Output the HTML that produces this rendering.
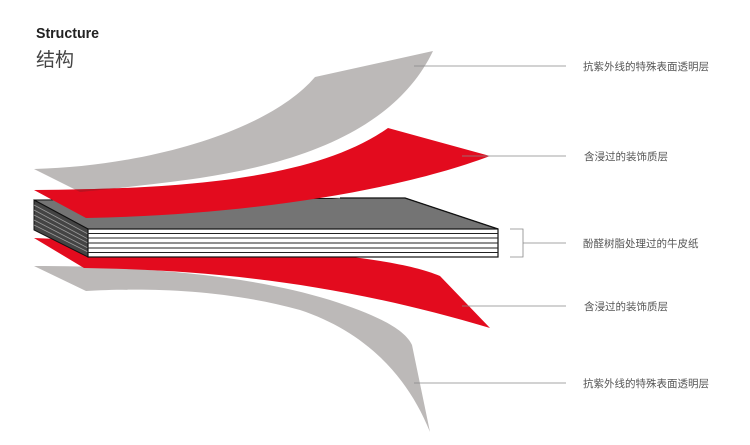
<!DOCTYPE html>
<html><head><meta charset="utf-8"><style>
body{margin:0;background:#fff;}
svg text{font-family:"Liberation Sans","Noto Sans CJK SC",sans-serif;}
</style></head><body>
<svg width="750" height="440" viewBox="0 0 750 440" xmlns="http://www.w3.org/2000/svg">
<defs>
<clipPath id="cg"><path d="M34,169 C150,166 270,130 315,77 L433,51 C400,120 320,160 200,178 C150,185 100,190 80,192 Z"/></clipPath>
</defs>
<text x="36" y="38" font-size="15" font-weight="bold" fill="#222" textLength="63" lengthAdjust="spacingAndGlyphs">Structure</text>
<text x="36" y="66" font-size="19" fill="#444">结构</text>
<path d="M34,266 C120,266 240,272 330,300 C380,316 405,330 412,345 L430,432 C405,370 360,330 300,310 C220,288 140,288 86,291 Z" fill="#bcb9b8"/>
<path d="M34,238 L84,268 C200,270 330,280 490,328 L440,276 C380,250 200,245 34,238 Z" fill="#e30b1e"/>
<path d="M34,169 C150,166 270,130 315,77 L433,51 C400,120 320,160 200,178 C150,185 100,190 80,192 Z" fill="#bcb9b8"/>
<polygon points="34,200 405,198 498,229 88,229" fill="#747474" stroke="#111" stroke-width="1"/>
<path d="M34,190 C200,189 320,176 388,128 L490,156 C400,190 250,215 86,218 Z" fill="#e30b1e"/>
<path d="M34,190 C200,189 320,176 388,128 L490,156 C400,190 250,215 86,218 Z" fill="#9a1a22" opacity="0.55" clip-path="url(#cg)"/>
<polygon points="88,229 498,229 405,198 340,198 C260,212 160,218 86,218 Z" fill="#747474"/>
<polyline points="340,198 405,198 498,229" fill="none" stroke="#111" stroke-width="1.2"/>
<polygon points="34,200 88,229 88,257 34,230" fill="#444" stroke="#111" stroke-width="1"/>
<g stroke="#999" stroke-width="0.8">
<line x1="34" y1="205" x2="88" y2="234"/><line x1="34" y1="210" x2="88" y2="239"/><line x1="34" y1="215" x2="88" y2="243"/><line x1="34" y1="220" x2="88" y2="248"/><line x1="34" y1="225" x2="88" y2="252"/>
</g>
<rect x="88" y="229" width="410" height="28" fill="#fff" stroke="#111" stroke-width="1.2"/>
<g stroke="#222" stroke-width="1">
<line x1="88" y1="233.5" x2="498" y2="233.5"/><line x1="88" y1="238" x2="498" y2="238"/><line x1="88" y1="243" x2="498" y2="243"/><line x1="88" y1="248" x2="498" y2="248"/><line x1="88" y1="252.5" x2="498" y2="252.5"/>
</g>
<g stroke="#888" stroke-width="0.8" fill="none">
<line x1="414" y1="66" x2="566" y2="66"/>
<line x1="462" y1="156" x2="566" y2="156"/>
<polyline points="510,229 523,229 523,257 510,257"/>
<line x1="523" y1="243" x2="566" y2="243"/>
<line x1="462" y1="306" x2="566" y2="306"/>
<line x1="414" y1="383" x2="566" y2="383"/>
</g>
<g font-size="10.5" fill="#555">
<text x="583" y="70">抗紫外线的特殊表面透明层</text>
<text x="584" y="160">含浸过的装饰质层</text>
<text x="583" y="247">酚醛树脂处理过的牛皮纸</text>
<text x="584" y="310">含浸过的装饰质层</text>
<text x="583" y="387">抗紫外线的特殊表面透明层</text>
</g>
</svg>
</body></html>
